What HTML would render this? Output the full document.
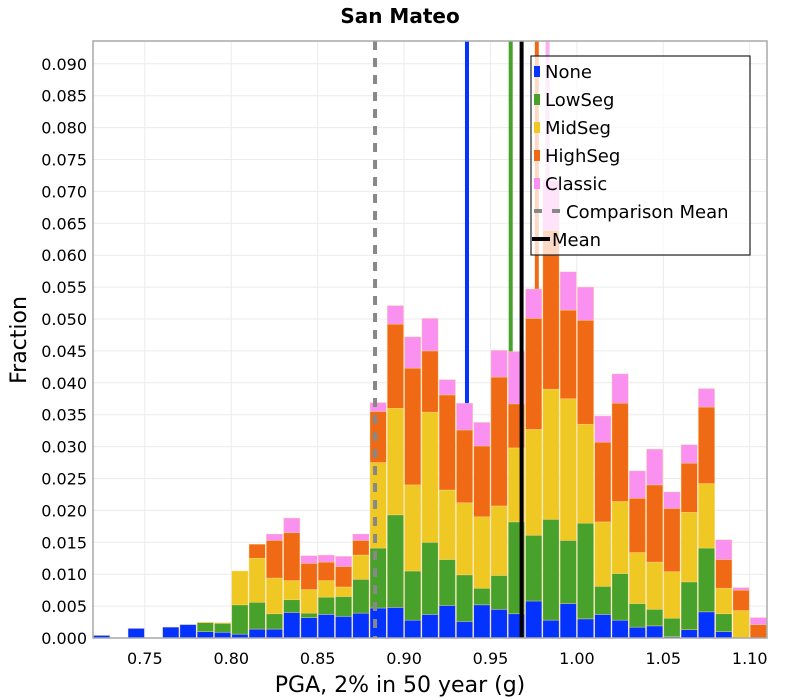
<!DOCTYPE html>
<html><head><meta charset="utf-8"><style>
html,body{margin:0;padding:0;background:#fff;}
svg{display:block;font-family:"DejaVu Sans","Liberation Sans",sans-serif;}
</style></head><body>
<svg id="chart" width="800" height="700" viewBox="0 0 800 700" xmlns="http://www.w3.org/2000/svg">
<text x="400" y="23" text-anchor="middle" font-size="20" font-weight="bold">San Mateo</text>
<text x="400" y="692" text-anchor="middle" font-size="22">PGA, 2% in 50 year (g)</text>
<text transform="translate(26,340) rotate(-90)" text-anchor="middle" font-size="22">Fraction</text>
<g id="grid"></g>
<g id="behind"></g>
<g id="bars"></g>
<g id="front"></g>
<g id="axes"></g>
<g id="legend"></g>
</svg>
<script>
const binStarts = [0.72,0.73,0.74,0.75,0.76,0.77,0.78,0.79,0.80,0.81,0.82,0.83,0.84,0.85,0.86,0.87,0.88,0.89,0.90,0.91,0.92,0.93,0.94,0.95,0.96,0.97,0.98,0.99,1.00,1.01,1.02,1.03,1.04,1.05,1.06,1.07,1.08,1.09,1.10];
const seriesNames = ["None","LowSeg","MidSeg","HighSeg","Classic"];
const noneVals = [.0004,0,.0015,0,.0017,.0021,.001,.0009,.0006,.0014,.0014,.004,.0032,.0037,.0034,.0039,.0047,.0048,.0028,.0037,.0051,.0026,.0052,.0045,.0038,.0058,.0028,.0054,.003,.0037,.0028,.0017,.0019,.0002,.0013,.0041,.001,0,0];
const lowVals = [0,0,0,0,0,0,.0014,.0014,.0046,.0042,.0024,.002,.0007,.0027,.0031,.0053,.0094,.0145,.0077,.0113,.0072,.0073,.0026,.0053,.0144,.0103,.0158,.0099,.015,.0044,.0073,.0037,.0026,.0029,.0075,.01,.0028,0,0];
const midVals = [0,0,0,0,0,0,.0001,.0001,.0053,.0069,.0056,.003,.0037,.0026,.0015,.0038,.0134,.0167,.0135,.0204,.0109,.0113,.0112,.0109,.0116,.0166,.0204,.0222,.0155,.0101,.0113,.008,.0074,.0073,.0109,.0101,.004,.0043,0];
const highVals = [0,0,0,0,0,0,0,0,0,.0022,.0059,.0075,.0041,.0029,.0032,.0023,.008,.0132,.0183,.0096,.0149,.0114,.0111,.0202,.0069,.0174,.0249,.0139,.0163,.0125,.0154,.0085,.0121,.0099,.0077,.012,.0045,.0032,.0021];
const classicVals = [0,0,0,0,0,0,0,0,0,0,.001,.0023,.0012,.0011,.0016,.001,.0014,.0029,.0049,.0051,.0024,.0042,.0037,.0042,.0082,.0046,.0078,.006,.0052,.0041,.0046,.0043,.0056,.0026,.0029,.0029,.0031,.0004,.0011];
const seriesMeans = [0.9364,0.9617,0.9768,0.9768,0.983];
const seriesMeanVals = [0.9364,0.9617,null,0.9768,0.983];
const comparisonMean = 0.8832;
const overallMean = 0.968;
const binWidth = 0.01;
const xTicks = [0.75,0.80,0.85,0.90,0.95,1.00,1.05,1.10];
const yTicks = [0,0.005,0.01,0.015,0.02,0.025,0.03,0.035,0.04,0.045,0.05,0.055,0.06,0.065,0.07,0.075,0.08,0.085,0.09];

const NS="http://www.w3.org/2000/svg";
const colors=["#0433ff","#48a12a","#f0c823","#f06a16","#fa90f0"];
const lineColors=["#0433ff","#48a12a","#f0c823","#f06a16","#f9b0f5"];
const L=93,R=767,T=41,B=638;
const xMin=0.72,xMax=1.11;
function xs(v){return L+(v-xMin)/(xMax-xMin)*(R-L);}
function ys(v){return B-v*6380;}
function mk(tag,attrs,parent){const e=document.createElementNS(NS,tag);for(const k in attrs)e.setAttribute(k,attrs[k]);parent.appendChild(e);return e;}
const grid=document.getElementById('grid'),axes=document.getElementById('axes');
mk('rect',{x:L,y:T,width:R-L,height:B-T,fill:'#fff'},grid);
yTicks.forEach(t=>{
  const y=ys(t);
  const gl=mk('line',{x1:L,x2:R,y1:y,y2:y,stroke:'#ebebeb','stroke-width':1},grid);
  
  
  const tx=mk('text',{x:87,y:y+6,'text-anchor':'end','font-size':16},axes);
  tx.textContent=t.toFixed(3);
  
  
});
xTicks.forEach(t=>{
  const x=xs(t);
  const gl=mk('line',{x1:x,x2:x,y1:T,y2:B,stroke:'#ebebeb','stroke-width':1},grid);
  
  
  const tx=mk('text',{x:x,y:664,'text-anchor':'middle','font-size':16},axes);
  tx.textContent=t.toFixed(2);
  
  
});
const border=mk('rect',{x:L,y:T,width:R-L,height:B-T,fill:'none',stroke:'#a8a8a8','stroke-width':1.5},axes);



const behind=document.getElementById('behind');
seriesMeanVals.forEach((m,i)=>{
  if(m===null)return;
  const x=xs(m);
  const ln=mk('line',{x1:x,x2:x,y1:T,y2:B,stroke:lineColors[i],'stroke-width':4},behind);
  
  
});

const barsG=document.getElementById('bars');
const allSeries=[noneVals,lowVals,midVals,highVals,classicVals];
binStarts.forEach((b,i)=>{
  let cum=0;
  const x0=xs(b)+0.5,x1=xs(b+binWidth)-0.5;
  allSeries.forEach((arr,s)=>{
    const v=arr[i];
    if(v>0){
      const yTop=ys(cum+v),yBot=ys(cum);
      const r=mk('rect',{x:x0,y:yTop,width:x1-x0,height:yBot-yTop,fill:colors[s],stroke:'rgba(255,220,150,0.6)','stroke-width':0.6},barsG);
      
      
    }
    cum+=v;
  });
});

const front=document.getElementById('front');
const cx=xs(comparisonMean);
const cl=mk('line',{x1:cx,x2:cx,y1:T,y2:B,stroke:'#888','stroke-width':4,'stroke-dasharray':'9 8'},front);


const mx=xs(overallMean);
const ml=mk('line',{x1:mx,x2:mx,y1:T,y2:B,stroke:'#000','stroke-width':4},front);



const lg=document.getElementById('legend');
mk('rect',{x:531,y:56,width:219,height:199,fill:'rgba(255,255,255,0.75)',stroke:'#222','stroke-width':1.2},lg);
const labels=["None","LowSeg","MidSeg","HighSeg","Classic"];
labels.forEach((lb,i)=>{
  const y=71+i*28;
  const g=mk('g',{},lg);
  
  
  mk('rect',{x:534,y:y-5,width:6,height:11,fill:colors[i]},g);
  const t=mk('text',{x:545,y:y+7,'font-size':18},g);t.textContent=lb;
});
const g6=mk('g',{},lg);


mk('line',{x1:534,x2:542,y1:211,y2:211,stroke:'#888','stroke-width':4},g6);
mk('line',{x1:552,x2:560,y1:211,y2:211,stroke:'#888','stroke-width':4},g6);
const t6=mk('text',{x:566,y:218,'font-size':18},g6);t6.textContent="Comparison Mean";
const g7=mk('g',{},lg);


mk('line',{x1:532,x2:550,y1:239,y2:239,stroke:'#000','stroke-width':4},g7);
const t7=mk('text',{x:552,y:246,'font-size':18},g7);t7.textContent="Mean";
</script>
</body></html>
